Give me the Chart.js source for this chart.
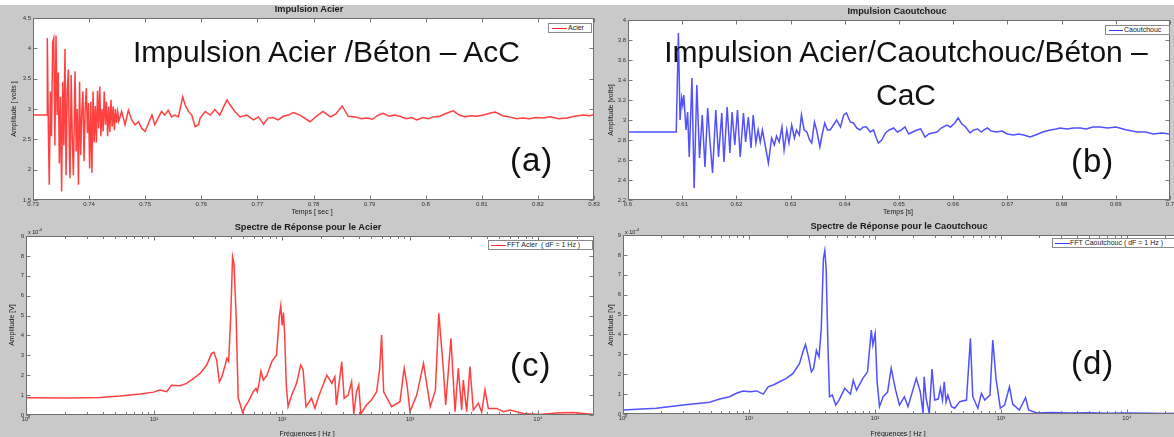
<!DOCTYPE html>
<html><head><meta charset="utf-8">
<script src="https://cdn.jsdelivr.net/npm/chart.js"></script>
<style>
html,body{margin:0;padding:0;}
body{width:1174px;height:437px;overflow:hidden;background:#c9c9c9;position:relative;font-family:"Liberation Sans",Arial,sans-serif;}
.topband{position:absolute;left:0;top:0;width:1174px;height:5px;background:#fff;}
canvas{position:absolute;}
.t{position:absolute;white-space:nowrap;color:#1a1a1a;line-height:1;}
.title{font-weight:bold;font-size:9.2px;transform:translate(-50%,-50%);}
.axt{font-size:7px;transform:translate(-50%,-50%);}
.yt{font-size:7px;transform:translate(-50%,-50%) rotate(-90deg);}
.mult{font-size:5.5px;}
.leg{position:absolute;background:#fff;border:1px solid #8a8a8a;font-size:7px;line-height:8px;color:#222;white-space:nowrap;box-sizing:border-box;overflow:hidden;}
.leg .ln{position:absolute;height:1px;}
.leg .lt{position:absolute;top:0;}
.big{font-size:30px;color:#111;position:absolute;white-space:nowrap;line-height:1;}
.lab{font-size:33px;color:#111;position:absolute;white-space:nowrap;line-height:1;letter-spacing:1px;}
</style></head>
<body>
<div class="topband"></div>
<canvas id="cA"></canvas>
<canvas id="cB"></canvas>
<canvas id="cC"></canvas>
<canvas id="cD"></canvas>

<div class="t title" style="left:309px;top:10px;">Impulsion Acier</div>
<div class="t title" style="left:897px;top:12px;">Impulsion Caoutchouc</div>
<div class="t title" style="left:308px;top:228px;">Spectre de Réponse pour le Acier</div>
<div class="t title" style="left:899px;top:227px;">Spectre de Réponse pour le Caoutchouc</div>

<div class="t axt" style="left:312px;top:211px;">Temps [ sec ]</div>
<div class="t axt" style="left:898px;top:211px;">Temps [s]</div>
<div class="t axt" style="left:307px;top:433px;">Fréquences [ Hz ]</div>
<div class="t axt" style="left:898px;top:433px;">Fréquences [ Hz ]</div>

<div class="t yt" style="left:13px;top:109px;">Amplitude [ volts ]</div>
<div class="t yt" style="left:610px;top:110px;">Amplitude [volts]</div>
<div class="t yt" style="left:11px;top:325px;">Amplitude [V]</div>
<div class="t yt" style="left:610px;top:325px;">Amplitude [V]</div>

<div class="t mult" style="left:28px;top:228px;">x 10<sup style="font-size:4px;">-4</sup></div>
<div class="t mult" style="left:625px;top:228px;">x 10<sup style="font-size:4px;">-4</sup></div>

<div class="leg" style="left:548px;top:23px;width:44px;height:10px;"><div class="ln" style="left:3px;top:4px;width:15px;background:#ff2a2a;"></div><div class="lt" style="left:19px;">Acier</div></div>
<div class="leg" style="left:1105px;top:25px;width:65px;height:10px;"><div class="ln" style="left:3px;top:4px;width:14px;background:#3a3aff;"></div><div class="lt" style="left:18px;">Caoutchouc</div></div>
<div class="leg" style="left:488px;top:240px;width:105px;height:10px;"><div class="ln" style="left:2px;top:4px;width:15px;background:#ff2a2a;"></div><div class="lt" style="left:18px;">FFT Acier &nbsp;( dF = 1 Hz )</div></div>
<div class="leg" style="left:1052px;top:238px;width:130px;height:10px;"><div class="ln" style="left:2px;top:4px;width:15px;background:#3a3aff;"></div><div class="lt" style="left:17px;">FFT Caoutchouc ( dF = 1 Hz )</div></div>

<div class="big" style="left:133px;top:37px;">Impulsion Acier /Béton – AcC</div>
<div class="big" style="left:606px;top:30px;width:600px;text-align:center;line-height:43px;">Impulsion Acier/Caoutchouc/Béton –<br>CaC</div>

<div class="lab" style="left:510px;top:143px;">(a)</div>
<div class="lab" style="left:1071px;top:144px;">(b)</div>
<div class="lab" style="left:510px;top:348px;">(c)</div>
<div class="lab" style="left:1071px;top:346px;">(d)</div>

<script>
// ---------- DATA ----------
// (a) Impulsion Acier : time [s] / amplitude [volts]
const timeA = [0.7300,0.73250,0.73255,0.73275,0.73290,0.73310,0.73330,0.73350,0.73370,0.73390,
0.73410,0.73430,0.73450,0.73470,0.73490,0.73510,0.73530,0.73550,0.73570,0.73590,
0.73610,0.73630,0.73650,0.73660,0.73680,0.73700,0.73720,0.73740,0.73750,0.73770,
0.73790,0.73810,0.73830,0.73850,0.73870,0.73890,0.73910,0.73930,0.73950,0.73970,
0.73990,0.74010,0.74030,0.74050,0.74070,0.74090,0.74110,0.74130,0.74150,0.74170,
0.74190,0.74210,0.74230,0.74250,0.74270,0.74290,0.74310,0.74330,0.74350,0.74370,
0.74390,0.74410,0.74430,0.74450,0.74470,0.74490,0.74510,0.74530,
0.7458,0.7464,0.7470,0.7476,
0.7482,0.7488,0.7494,0.7500,0.7506,0.7512,0.7517,0.7523,0.7529,0.7535,
0.7541,0.7547,0.7553,0.7559,0.7567,0.7571,0.7577,0.7583,0.7589,0.7595,
0.7598,0.7607,0.7616,0.7624,0.7633,0.7640,0.7646,0.7651,0.7660,0.7669,
0.7681,0.7693,0.7702,0.7711,0.7719,0.7728,0.7737,0.7746,0.7755,0.7764,
0.7776,0.7794,0.7805,0.7817,0.7830,0.7840,0.7851,0.7862,0.7875,0.7885,
0.7895,0.7905,0.7914,0.7924,0.7935,0.7944,0.7954,0.7965,0.7975,0.7984,
0.7995,0.8005,0.8013,0.8025,0.8037,0.8049,0.8060,0.8070,0.8080,0.8091,
0.8103,0.8114,0.8124,0.8137,0.8150,0.8162,0.8173,0.8185,0.8197,0.8210,
0.8222,0.8237,0.8252,0.8265,0.8281,0.8292,0.8300];
const voltA = [2.90,2.90,4.17,2.60,1.75,3.29,2.55,4.10,4.17,2.40,
4.21,2.90,3.60,2.10,3.20,1.64,3.45,2.40,3.99,1.91,
3.30,3.65,2.20,1.86,3.56,2.50,1.91,3.10,3.62,2.30,
3.00,1.75,3.45,2.24,2.95,3.29,2.14,3.00,3.34,2.60,
3.10,2.02,3.12,1.95,3.29,2.45,3.05,2.45,3.30,2.68,
3.37,2.55,3.00,2.63,3.29,2.74,3.12,2.55,3.04,2.62,
3.15,2.71,3.04,2.65,3.00,2.77,2.95,2.80,
2.96,2.74,2.98,2.82,
2.74,2.79,2.68,2.63,2.77,2.90,2.74,2.85,2.96,2.90,
2.98,2.87,2.90,2.87,3.20,3.07,2.96,2.90,2.71,2.74,
2.85,2.96,2.90,2.99,2.90,3.04,3.15,3.07,2.96,2.87,
2.90,2.82,2.87,2.75,2.85,2.86,2.82,2.88,2.90,2.94,
2.90,2.79,2.88,2.96,2.87,2.92,3.05,2.88,2.87,2.84,
2.85,2.83,2.89,2.93,2.88,2.90,2.88,2.84,2.86,2.82,
2.86,2.84,2.87,2.88,2.93,2.97,2.90,2.87,2.89,2.88,
2.90,2.93,2.95,2.89,2.87,2.84,2.85,2.84,2.86,2.85,
2.87,2.84,2.85,2.88,2.90,2.89,2.91];

// (b) Impulsion Caoutchouc : time [s] / amplitude [volts]
const timeB = [0.6000,0.6089,0.6093,0.6096,0.6099,0.6101,0.6103,0.6107,0.6110,0.6113,
0.6118,0.6122,0.6127,0.6132,0.6137,0.6142,0.6147,0.6151,0.6156,0.6162,
0.6167,0.6173,0.6177,0.6183,0.6188,0.6192,0.6197,0.6202,0.6207,0.6213,
0.6217,0.6222,0.6227,0.6231,0.6236,0.6240,0.6244,0.6248,0.6253,0.6259,
0.6265,0.6270,0.6274,0.6279,0.6284,0.6288,0.6293,0.6297,0.6302,0.6307,
0.6311,0.6316,0.6320,0.6325,0.6330,0.6335,0.6339,0.6344,0.6348,0.6354,
0.6358,0.6363,0.6368,0.6373,0.6379,0.6385,0.6392,0.6398,0.6403,0.6410,
0.6416,0.6422,0.6428,0.6434,0.6440,0.6447,0.6453,0.6458,0.6462,0.6468,
0.6475,0.6482,0.6490,0.6497,0.6504,0.6511,0.6518,0.6525,0.6533,0.6540,
0.6548,0.6555,0.6562,0.6570,0.6578,0.6588,0.6595,0.6603,0.6609,0.6616,
0.6623,0.6631,0.6638,0.6645,0.6652,0.6656,0.6663,0.6670,0.6680,0.6690,
0.6700,0.6711,0.6720,0.6730,0.6742,0.6752,0.6765,0.6779,0.6790,0.6797,
0.6810,0.6822,0.6834,0.6845,0.6858,0.6871,0.6885,0.6900,0.6920,0.6940,
0.6955,0.6969,0.6985,0.7000];
const voltB = [2.88,2.88,3.87,3.00,3.22,3.15,3.25,2.90,3.08,2.63,
3.42,2.32,3.35,2.62,3.05,2.53,3.12,2.80,2.47,3.10,
2.63,3.07,2.58,3.13,2.67,3.08,2.75,3.10,2.63,3.07,
2.78,3.03,2.72,3.05,2.77,2.90,2.78,2.90,2.75,2.57,
2.82,2.75,2.84,2.78,2.93,2.70,2.90,2.77,2.95,2.82,
2.90,2.85,3.05,2.90,2.88,2.80,2.77,2.98,2.90,2.73,
2.85,2.97,2.90,2.90,2.95,3.00,2.93,3.05,3.07,2.98,
2.97,2.92,2.90,2.93,2.93,2.88,2.90,2.82,2.77,2.80,
2.87,2.90,2.92,2.88,2.90,2.93,2.86,2.88,2.90,2.91,
2.83,2.86,2.87,2.88,2.92,2.95,2.93,2.97,3.02,2.96,
2.93,2.87,2.90,2.91,2.88,2.90,2.92,2.89,2.88,2.89,
2.86,2.85,2.86,2.85,2.83,2.85,2.88,2.90,2.91,2.92,
2.91,2.92,2.92,2.91,2.93,2.93,2.92,2.93,2.90,2.88,
2.88,2.86,2.87,2.86];

// (c) Spectre Acier : frequency [Hz] / amplitude [x1e-4 V]
const freqC = [1,2.08,3.78,5.42,7.8,9.9,11.1,12.6,13.7,16,
18,20.4,22.9,25.8,28.2,29.4,30.9,32.4,33.8,36,
37.1,38.3,39.8,41.1,42.2,43.8,45.5,46.9,49.3,51.4,
54.6,59.6,62.6,64.2,66.5,68.5,71.5,76.4,83.2,88.4,
90.6,95.5,97.9,100.3,102.7,105,108,111.6,119,130,
140,146,154,170,181,191,224,245,259,266,
293,306,329,350,364,382,398,413,457,500,
549,580,600,623,718,835,901,948,1000,1129,
1275,1440,1580,1680,1820,1900,2090,2248,2385,2535,
2609,2773,2943,3125,3418,3634,3855,4092,4758,5357,
6043,7677,10370,14000,18760,27380];
const ampC = [0.87,0.86,0.88,0.95,1.05,1.15,1.25,1.17,1.50,1.47,
1.59,1.84,2.09,2.51,3.10,3.15,2.75,1.67,1.90,2.50,
2.85,2.70,5.00,7.95,7.60,5.00,0.84,0.59,0.12,0.42,
0.67,1.17,1.34,1.17,1.67,2.20,1.76,2.00,2.68,2.93,
3.00,5.00,5.49,4.50,5.15,4.00,1.50,0.42,1.00,1.59,
2.51,2.30,0.42,0.84,0.34,0.84,2.00,1.59,1.92,0.50,
2.68,0.84,1.00,1.67,0.05,1.17,1.51,0.05,0.50,0.75,
1.17,2.35,4.02,1.17,0.42,0.67,2.35,1.51,0.17,1.00,
2.60,0.42,1.25,5.11,2.35,0.50,3.85,0.17,2.35,0.25,
1.76,0.17,2.43,0.25,0.59,0.15,1.26,0.33,0.33,0.17,
0.25,0.08,0.02,0.10,0.12,0.02];

// (d) Spectre Caoutchouc : frequency [Hz] / amplitude [x1e-4 V]
const freqD = [1,1.84,3.0,4.88,5.85,7.03,7.95,8.98,10.2,11.5,
13.0,14.2,15.6,17.5,19.8,22.4,25.2,26.8,28.1,29.5,
31.3,32.6,34.3,36.0,37.5,39.0,40.0,41.0,42.4,43.6,
45.9,48.8,51.9,57.6,61.2,64.0,67.3,71.5,80.2,87.3,
93.6,96.3,100.4,104.1,108.7,116,126,134.6,146,156.6,
171.5,183,213,229,241,246,255,270,284,298,
318,331,344,355,367,379,405,430,471,533,
573,598,656,700,745,819,862,914,990,1070,
1170,1240,1400,1570,1660,1920,2500,3500,5000,7000,
10000,15000,20000,27400];
const ampD = [0.20,0.29,0.45,0.59,0.75,0.87,1.04,1.16,1.12,1.16,
1.00,1.37,1.46,1.62,1.79,2.04,2.54,3.12,3.50,2.95,
2.12,2.29,3.20,2.87,4.30,7.82,8.22,7.30,3.30,0.87,
0.95,0.45,0.70,1.29,1.12,1.00,1.70,1.20,1.79,2.12,
4.22,3.47,4.05,1.63,0.37,0.87,1.10,2.30,1.20,0.45,
0.87,0.37,1.79,1.12,0.04,1.87,0.79,0.02,2.26,0.70,
0.75,1.29,0.70,1.62,0.60,0.95,0.37,0.29,0.62,0.70,
3.80,0.87,0.29,1.04,0.70,0.95,3.72,1.79,0.29,0.45,
1.37,0.50,0.20,0.82,0.20,0.05,0.08,0.05,0.06,0.04,
0.05,0.04,0.03,0.04];

// tick values and labels
const xTicksA = [0.73,0.74,0.75,0.76,0.77,0.78,0.79,0.80,0.81,0.82,0.83];
const xLabelsA = ['0.73','0.74','0.75','0.76','0.77','0.78','0.79','0.8','0.81','0.82','0.83'];
const yTicksA = [1.5,2,2.5,3,3.5,4,4.5];
const yLabelsA = ['1.5','2','2.5','3','3.5','4','4.5'];
const xTicksB = [0.60,0.61,0.62,0.63,0.64,0.65,0.66,0.67,0.68,0.69,0.70];
const xLabelsB = ['0.6','0.61','0.62','0.63','0.64','0.65','0.66','0.67','0.68','0.69','0.7'];
const yTicksB = [2.2,2.4,2.6,2.8,3.0,3.2,3.4,3.6,3.8,4.0];
const yLabelsB = ['2.2','2.4','2.6','2.8','3','3.2','3.4','3.6','3.8','4'];
const freqMajor = [1,10,100,1000,10000];
const freqMajorLabels = ['10\u2070','10\u00B9','10\u00B2','10\u00B3','10\u2074'];
const freqMinor = [2,3,4,5,6,7,8,9,20,30,40,50,60,70,80,90,200,300,400,500,600,700,800,900,2000,3000,4000,5000,6000,7000,8000,9000,20000];
const yTicksFFT = [0,1,2,3,4,5,6,7,8,9];
const yLabelsFFT = ['0','1','2','3','4','5','6','7','8','9'];

// ---------- RENDERING ----------
const TICKFONT = {family:'Liberation Sans', size:6};
const matlabBox = {
  id:'matlabBox',
  beforeDraw(chart){
    const a = chart.chartArea, c = chart.ctx;
    c.save(); c.fillStyle = '#ffffff';
    c.fillRect(a.left, a.top, a.right - a.left, a.bottom - a.top);
    c.restore();
  },
  afterDatasetsDraw(chart){
    const a = chart.chartArea, c = chart.ctx;
    const L = Math.round(a.left) + 0.5, R = Math.round(a.right) - 0.5;
    const T = Math.round(a.top) + 0.5, B = Math.round(a.bottom) - 0.5;
    c.save();
    c.strokeStyle = '#7a7a7a'; c.lineWidth = 1;
    c.beginPath();
    const xs = chart.scales.x, ys = chart.scales.y;
    const isLog = xs.type === 'logarithmic';
    xs.ticks.forEach(t => {
      const p = Math.round(xs.getPixelForValue(t.value)) + 0.5;
      const major = !isLog || freqMajor.includes(t.value);
      const len = major ? 4 : 2.5;
      c.moveTo(p, B); c.lineTo(p, B - len);
      c.moveTo(p, T); c.lineTo(p, T + len);
    });
    ys.ticks.forEach(t => {
      const p = Math.round(ys.getPixelForValue(t.value)) + 0.5;
      c.moveTo(L, p); c.lineTo(L + 4, p);
      c.moveTo(R, p); c.lineTo(R - 4, p);
    });
    c.stroke();
    c.strokeStyle = '#6e6e6e';
    c.strokeRect(L, T, R - L, B - T);
    c.restore();
  }
};

function build(id, pos, area, xs, ys, color, xScale, yScale){
  const cv = document.getElementById(id);
  cv.width = pos.w; cv.height = pos.h;
  cv.style.left = pos.x + 'px'; cv.style.top = pos.y + 'px';
  cv.style.width = pos.w + 'px'; cv.style.height = pos.h + 'px';
  const padL = area.left - pos.x, padT = area.top - pos.y;
  const padR = pos.x + pos.w - area.right, padB = pos.y + pos.h - area.bottom;
  new Chart(cv, {
    type:'line',
    data:{datasets:[{data: xs.map((x,i) => ({x:x, y:ys[i]})), borderColor:color, borderWidth:1.5,
      pointRadius:0, tension:0, fill:false}]},
    options:{
      responsive:false, animation:false, devicePixelRatio:1,
      layout:{padding:{left:0, top:padT, right:padR, bottom:0}},
      plugins:{legend:{display:false}, tooltip:{enabled:false}, title:{display:false}},
      scales:{
        x: Object.assign({
          grid:{display:false, drawTicks:false}, border:{display:false},
          afterFit: s => { s.height = padB; s.paddingLeft = 0; s.paddingRight = 0; }
        }, xScale),
        y: Object.assign({
          grid:{display:false, drawTicks:false}, border:{display:false},
          afterFit: s => { s.width = padL; s.paddingTop = 0; s.paddingBottom = 0; }
        }, yScale)
      }
    },
    plugins:[matlabBox]
  });
}

function linAxis(min, max, vals, labels, pad){
  return {type:'linear', min:min, max:max,
    afterBuildTicks: s => { s.ticks = vals.map(v => ({value:v})); },
    ticks:{autoSkip:false, maxRotation:0, minRotation:0, font:TICKFONT, color:'#333', padding:pad,
      callback:(v,i) => labels[i]}};
}
function logAxis(min, max){
  const all = freqMajor.concat(freqMinor).filter(v => v >= min && v <= max).sort((a,b) => a-b);
  return {type:'logarithmic', min:min, max:max,
    afterBuildTicks: s => { s.ticks = all.map(v => ({value:v})); },
    ticks:{autoSkip:false, maxRotation:0, minRotation:0, font:TICKFONT, color:'#333', padding:1,
      callback:(v) => { const k = freqMajor.indexOf(v); return k >= 0 ? freqMajorLabels[k] : ''; }}};
}

build('cA', {x:0,y:0,w:600,h:215}, {left:33,top:18,right:594,bottom:200}, timeA, voltA, 'rgba(255,30,30,0.85)',
  linAxis(0.73, 0.83, xTicksA, xLabelsA, 1), linAxis(1.5, 4.5, yTicksA, yLabelsA, 2));
build('cB', {x:600,y:0,w:574,h:215}, {left:628,top:20,right:1170,bottom:200}, timeB, voltB, 'rgba(50,50,255,0.85)',
  linAxis(0.6, 0.7, xTicksB, xLabelsB, 1), linAxis(2.2, 4.0, yTicksB, yLabelsB, 2));
build('cC', {x:0,y:215,w:600,h:222}, {left:26,top:236,right:594,bottom:415}, freqC, ampC, 'rgba(255,30,30,0.85)',
  logAxis(1, 27400), linAxis(0, 9, yTicksFFT, yLabelsFFT, 2));
build('cD', {x:600,y:215,w:600,h:222}, {left:623,top:235,right:1182,bottom:414}, freqD, ampD, 'rgba(50,50,255,0.85)',
  logAxis(1, 27400), linAxis(0, 9, yTicksFFT, yLabelsFFT, 2));
</script>
</body></html>
